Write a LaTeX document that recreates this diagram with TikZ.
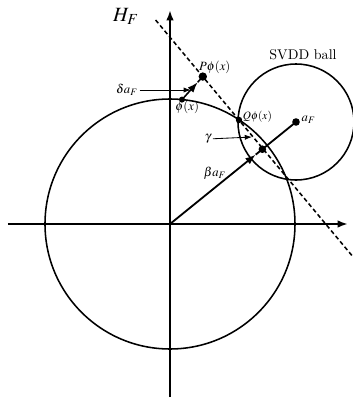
\documentclass[tikz,border=0pt]{standalone}
\usepackage{amsmath,amssymb,mathptmx}
\usetikzlibrary{arrows.meta,calc}

\begin{document}
\begin{tikzpicture}[>={Latex[length=2.6mm,width=1.9mm]},
    axe/.style={->, line width=1.6pt},
    trait/.style={line width=1.1pt},
    fleche/.style={-{Latex[length=1.8mm,width=1.3mm]}, line width=0.6pt},
    point/.style={circle, fill, inner sep=0pt, minimum size=1.9mm},
    etiq/.style={font=\small, inner sep=1pt}]
    \useasboundingbox (-4.25,-4.375) rectangle (4.575,5.6);

    % Axes
    \coordinate (O) at (0,0);
    \coordinate (Xg) at (-4.05,0);
    \coordinate (Xd) at (4.45,0);
    \coordinate (Yb) at (0,-4.33);
    \coordinate (Yh) at (0,5.35);
    \draw[axe] (Xg) -- (Xd);
    \draw[axe] (Yb) -- (Yh);

    % Cercle unite et boule SVDD
    \coordinate (A) at (3.15,2.55);
    \draw[trait] (O) circle (3.125);
    \draw[trait] (A) circle (1.45);
    \node[font=\normalsize] (svdd) at (3.325,4.225) {SVDD ball};

    % Hyperplan H_F
    \coordinate (Q) at (1.725,2.6);
    \coordinate (H1) at (-0.36,5.1);
    \coordinate (H2) at (4.55,-0.79);
    \draw[trait, dash pattern=on 3pt off 2pt] (H1) -- (H2);
    \node[font=\Large] (HF) at (-1.1,5.2) {$\boldsymbol{H_F}$};

    % Vecteur beta a_F
    \coordinate (B) at ($(O)!0.68!(A)$);
    \coordinate (F) at ($(O)!0.733!(A)$);
    \draw[trait, ->, line width=1.3pt] (O) -- (B);
    \draw[trait, line width=1.3pt] (B) -- (A);
    \node[point] (pA) at (A) {};
    \node[point] (pF) at (F) {};
    \node[etiq, anchor=west] (aF) at (3.25,2.6) {$a_F$};
    \node[etiq] (baF) at (1.125,1.275) {$\beta a_F$};

    % phi(x) et sa projection
    \coordinate (phi) at (0.3,3.11);
    \coordinate (P) at (0.82,3.686);
    \coordinate (M) at ($(phi)!0.75!(P)$);
    \draw[trait, ->] (phi) -- (M);
    \draw[trait] (M) -- (P);
    \node[point, minimum size=1.5mm] (pphi) at (phi) {};
    \node[point, minimum size=2.1mm] (pP) at (P) {};
    \node[point, minimum size=1.6mm] (pQ) at (Q) {};
    \node[etiq] (lphi) at (0.43,2.925) {$\phi(x)$};
    \node[etiq] (lP) at (1.12,3.92) {$P\phi(x)$};
    \node[etiq, anchor=west, font=\footnotesize] (lQ) at (1.78,2.68) {$Q\phi(x)$};

    % Fleches des etiquettes
    \coordinate (Md) at (0.52,3.35);
    \coordinate (G) at (2.05,2.175);
    \node[etiq] (da) at (-1.075,3.35) {$\delta a_F$};
    \node[etiq] (ga) at (0.95,2.125) {$\gamma$};
    \draw[fleche] (da) -- (Md);
    \draw[fleche] (ga) -- (G);
\end{tikzpicture}
\end{document}
